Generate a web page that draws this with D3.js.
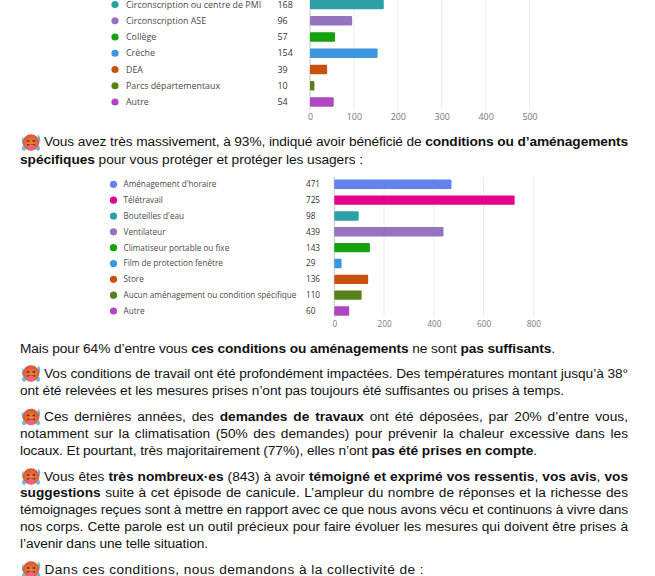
<!DOCTYPE html>
<html>
<head>
<meta charset="utf-8">
<script src="https://cdn.jsdelivr.net/npm/d3@7"></script>
<style>
	html, body { margin: 0; padding: 0; background: #fff; overflow: hidden; }
	svg { display: block; }
	.para { font-family: "Liberation Sans", Arial, sans-serif; font-size: 13.7px; fill: #111; }
	.chart text { font-family: "Open Sans", sans-serif; fill: #4a4a4a; }
	.chart .value { fill: #333; }
	.chart .tick text { fill: #777; }
	.chart .domain { display: none; }
</style>
</head>
<body>
<svg id="page" width="655" height="576"></svg>
<script>
const topCategories = ['Circonscription ou centre de PMI', 'Circonscription ASE', 'Collège', 'Crèche', 'DEA', 'Parcs départementaux', 'Autre'];
const topValues = [168, 96, 57, 154, 39, 10, 54];
const topColors = ['#2d9fa6', '#9573be', '#13a10e', '#3a96dd', '#ca5010', '#57811b', '#b146c2'];
const topTicks = [0, 100, 200, 300, 400, 500];

const midCategories = ["Aménagement d'horaire", 'Télétravail', "Bouteilles d'eau", 'Ventilateur', 'Climatiseur portable ou fixe', 'Film de protection fenêtre', 'Store', 'Aucun aménagement ou condition spécifique', 'Autre'];
const midValues = [471, 725, 98, 439, 143, 29, 136, 110, 60];
const midColors = ['#6581f0', '#e3008c', '#2d9fa6', '#9573be', '#13a10e', '#3a96dd', '#ca5010', '#57811b', '#b146c2'];
const midTicks = [0, 200, 400, 600, 800];

// each line: baseline, left edge, right edge, justified or not, runs (text in ** is bold)
const textLines = [
	[146.4, 44, 628, true, "Vous avez très massivement, à 93%, indiqué avoir bénéficié de **conditions ou d’aménagements**"],
	[163.8, 20, 363, false, "**spécifiques** pour vous protéger et protéger les usagers :"],
	[352.6, 20, 555, false, "Mais pour 64% d’entre vous **ces conditions ou aménagements** ne sont **pas suffisants**."],
	[378, 44, 628, true, "Vos conditions de travail ont été profondément impactées. Des températures montant jusqu’à 38°"],
	[395, 20, 564, false, "ont été relevées et les mesures prises n’ont pas toujours été suffisantes ou prises à temps."],
	[421, 44, 628, true, "Ces dernières années, des **demandes de travaux** ont été déposées, par 20% d’entre vous,"],
	[437.6, 20, 628, true, "notamment sur la climatisation (50% des demandes) pour prévenir la chaleur excessive dans les"],
	[454.6, 20, 537, false, "locaux. Et pourtant, très majoritairement (77%), elles n’ont **pas été prises en compte**."],
	[481, 44, 628, true, "Vous êtes **très nombreux·es** (843) à avoir **témoigné et exprimé vos ressentis**, **vos avis**, **vos**"],
	[497, 20, 628, true, "**suggestions** suite à cet épisode de canicule. L’ampleur du nombre de réponses et la richesse des"],
	[514, 20, 628, true, "témoignages reçues sont à mettre en rapport avec ce que nous avons vécu et continuons à vivre dans"],
	[531, 20, 628, true, "nos corps. Cette parole est un outil précieux pour faire évoluer les mesures qui doivent être prises à"],
	[548, 20, 208, false, "l’avenir dans une telle situation."],
	[574, 44.5, 424, false, "Dans ces conditions, nous demandons à la collectivité de :"]
];
const emojiCenters = [[31, 142.5], [31, 373.5], [31, 417], [31, 476.5], [31, 569.5]];

const svg = d3.select('#page');

function drawChart(cfg) {
	const g = svg.append('g').attr('class', 'chart').style('font-size', cfg.fontSize + 'px');
	const x = d3.scaleLinear().domain([0, cfg.max]).range([cfg.x0, cfg.x1]);
	const y = d3.scalePoint().domain(cfg.categories).range([cfg.yFirst, cfg.yLast]);

	g.append('g').selectAll('line').data(cfg.ticks).enter().append('line')
		.attr('x1', d => x(d)).attr('x2', d => x(d))
		.attr('y1', cfg.gridTop).attr('y2', cfg.gridBottom)
		.attr('stroke', d => d == 0 ? '#c4c4c4' : '#ededed');

	g.append('g')
		.attr('transform', 'translate(0,' + cfg.gridBottom + ')')
		.call(d3.axisBottom(x).tickValues(cfg.ticks).tickSize(0).tickPadding(4))
		.attr('font-size', null)
		.attr('font-family', null);

	const rows = g.append('g').selectAll('g').data(cfg.categories).enter().append('g');

	rows.append('circle')
		.attr('cx', cfg.dotX).attr('cy', d => y(d)).attr('r', 3.6)
		.attr('fill', (d, i) => cfg.colors[i]);
	rows.append('text')
		.attr('x', cfg.labelX).attr('y', d => y(d)).attr('dy', '0.35em')
		.text(d => d);
	rows.append('text')
		.attr('class', 'value')
		.attr('x', cfg.valueX).attr('y', d => y(d)).attr('dy', '0.35em')
		.text((d, i) => cfg.values[i]);
	rows.append('rect')
		.attr('x', x(0)).attr('y', d => y(d) - 4.7)
		.attr('width', (d, i) => x(cfg.values[i]) - x(0)).attr('height', 9.4)
		.attr('rx', 1)
		.attr('fill', (d, i) => cfg.colors[i]);
}

drawChart({
	categories: topCategories, values: topValues, colors: topColors, ticks: topTicks, max: 500, fontSize: 8.9,
	x0: 310, x1: 529.5, yFirst: 4.5, yLast: 102, gridTop: 0, gridBottom: 110,
	dotX: 115, labelX: 126, valueX: 277.5
});
drawChart({
	categories: midCategories, values: midValues, colors: midColors, ticks: midTicks, max: 800, fontSize: 8.2,
	x0: 334.3, x1: 533.3, yFirst: 184.3, yLast: 311, gridTop: 177, gridBottom: 317,
	dotX: 113.5, labelX: 123.5, valueX: 306
});

// paragraphs, fitted line by line since the source is a hinted render
textLines.forEach(function(line) {
	const text = svg.append('text').attr('class', 'para').attr('x', line[1]).attr('y', line[0]);
	const content = line[4];
	content.split('**').forEach(function(run, i) {
		if (run) text.append('tspan').attr('font-weight', i % 2 ? 'bold' : 'normal').text(run);
	});
	const plain = content.replace(/\*\*/g, '');
	const missing = line[2] - line[1] - text.node().getComputedTextLength();
	if (line[3] && missing > 0)
		text.attr('word-spacing', missing / (plain.split(' ').length - 1));
	else
		text.attr('letter-spacing', missing / plain.length);
});

// hot face emoji, no emoji font available so it is drawn
const faceGrad = svg.append('defs').append('radialGradient').attr('id', 'face').attr('cy', '60%');
faceGrad.append('stop').attr('offset', '0%').attr('stop-color', '#f0863c');
faceGrad.append('stop').attr('offset', '100%').attr('stop-color', '#dc5a34');

const emoji = svg.append('g').selectAll('g').data(emojiCenters).enter().append('g')
	.attr('transform', d => 'translate(' + d[0] + ',' + d[1] + ')');
emoji.append('path').attr('d', 'M-8-6q-2 4-1 7 2 2 3 0z').attr('fill', '#6cb6ec');
emoji.append('path').attr('d', 'M7-8q3 2 2 7-2 2-3 0z').attr('fill', '#6cb6ec');
emoji.append('circle').attr('r', 8.3).attr('fill', 'url(#face)');
emoji.append('path').attr('d', 'M-8 3q-2 3 0 5 3 1 3-2z').attr('fill', '#6cb6ec');
emoji.append('path').attr('d', 'M8 3q2 3 0 5-3 1-3-2z').attr('fill', '#6cb6ec');
emoji.append('path').attr('d', 'M-4-1.5h2.4M1.6-1.5h2.4').attr('stroke', '#5a2a1a').attr('stroke-width', 1.3).attr('fill', 'none');
emoji.append('path').attr('d', 'M-4 1.5q4 1.6 8 0l-.6 2h-6.8z').attr('fill', '#4a1f1a');
emoji.append('path').attr('d', 'M-2.8 2.5h5.6v2.8a2.8 2.8 0 0 1-5.6 0z').attr('fill', '#f25f8a');
</script>
</body>
</html>
